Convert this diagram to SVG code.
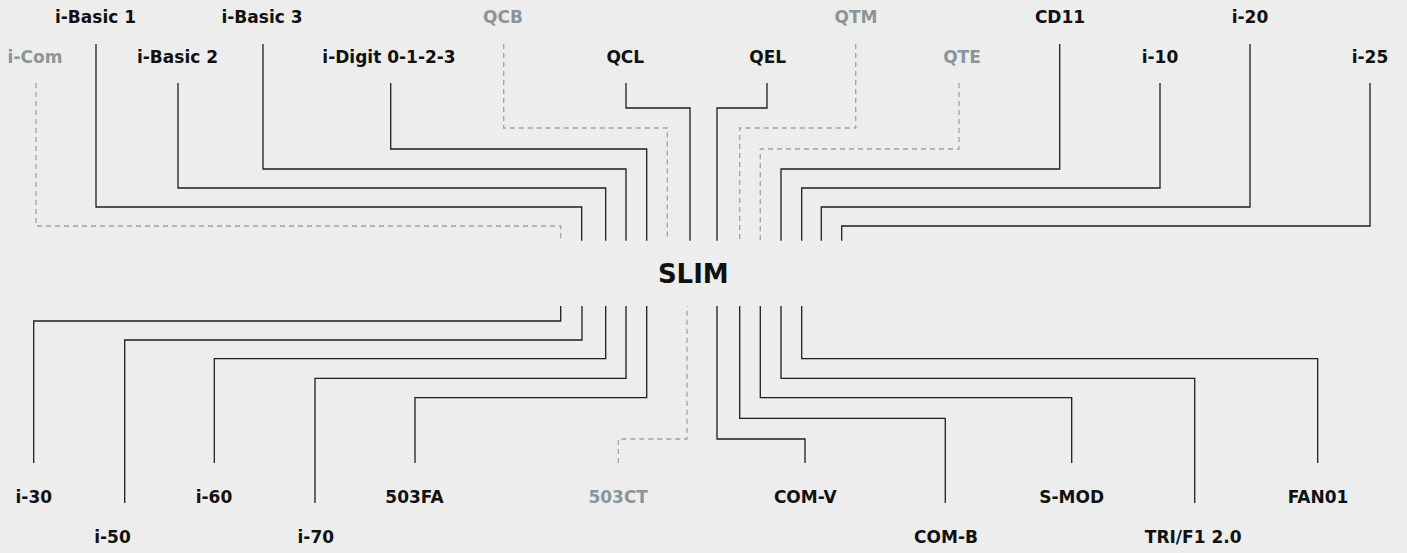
<svg xmlns="http://www.w3.org/2000/svg" width="1407" height="553" viewBox="0 0 1407 553">
<style>
text{font-family:"DejaVu Sans","Liberation Sans",sans-serif;font-weight:bold;font-size:17px;text-anchor:middle;fill:#111}
text.g{fill:#8b9599}
text.hub{font-size:26px}
.c path{fill:none;stroke:#1e1e1e;stroke-width:1.3}
.c path.d{stroke:#a3a3a3;stroke-dasharray:5 4}
</style>
<rect width="1407" height="553" fill="#ededed"/>
<g id="connectors" class="c">
<path class="d" d="M36,83 V226 H560.7 V240.7"/>
<path d="M96,44 V207 H581.7 V240.7"/>
<path d="M178,83 V188 H605.7 V240.7"/>
<path d="M263,44 V169 H626 V240.7"/>
<path d="M390.7,83 V149 H646.7 V240.7"/>
<path class="d" d="M503.7,44 V128 H667.3 V240.7"/>
<path d="M626,83 V108 H690 V240.7"/>
<path d="M767,83 V108 H717 V240.7"/>
<path class="d" d="M855.7,44 V128 H739.7 V240.7"/>
<path class="d" d="M959,83 V149 H760.3 V240.7"/>
<path d="M1059.7,44 V169 H781 V240.7"/>
<path d="M1160,83 V188 H801.7 V240.7"/>
<path d="M1250,44 V207 H821.3 V240.7"/>
<path d="M1370,83 V226 H841.7 V240.7"/>
<path d="M33.7,463 V321 H560.7 V306"/>
<path d="M124.7,503 V340 H582 V306"/>
<path d="M214.3,463 V358.7 H605.7 V306"/>
<path d="M315,503 V378.3 H626 V306"/>
<path d="M415,463 V397.7 H646.7 V306"/>
<path class="d" d="M618.3,463 V439 H687 V306"/>
<path d="M805,463 V439 H717 V306"/>
<path d="M945.3,503 V418.3 H739.7 V306"/>
<path d="M1071.7,463 V397.7 H760.3 V306"/>
<path d="M1194.7,503 V378.3 H781 V306"/>
<path d="M1317.7,463 V358.7 H801.7 V306"/>
</g>
<g id="slim"><text class="hub" x="693.3" y="283">SLIM</text></g>
<g id="i-basic-1"><text x="95.5" y="23">i-Basic 1</text></g>
<g id="i-basic-3"><text x="262" y="23">i-Basic 3</text></g>
<g id="qcb"><text class="g" x="503" y="23">QCB</text></g>
<g id="qtm"><text class="g" x="856" y="23">QTM</text></g>
<g id="cd11"><text x="1060" y="23">CD11</text></g>
<g id="i-20"><text x="1250" y="23">i-20</text></g>
<g id="i-com"><text class="g" x="35" y="63">i-Com</text></g>
<g id="i-basic-2"><text x="177.5" y="63">i-Basic 2</text></g>
<g id="i-digit"><text x="389" y="63">i-Digit 0-1-2-3</text></g>
<g id="qcl"><text x="625.3" y="63">QCL</text></g>
<g id="qel"><text x="767.7" y="63">QEL</text></g>
<g id="qte"><text class="g" x="962" y="63">QTE</text></g>
<g id="i-10"><text x="1160" y="63">i-10</text></g>
<g id="i-25"><text x="1370" y="63">i-25</text></g>
<g id="i-30"><text x="33.8" y="503">i-30</text></g>
<g id="i-60"><text x="214" y="503">i-60</text></g>
<g id="n503fa"><text x="414.5" y="503">503FA</text></g>
<g id="n503ct"><text class="g" x="618.2" y="503">503CT</text></g>
<g id="com-v"><text x="805.3" y="503">COM-V</text></g>
<g id="s-mod"><text x="1071.7" y="503">S-MOD</text></g>
<g id="fan01"><text x="1318" y="503">FAN01</text></g>
<g id="i-50"><text x="112.5" y="543">i-50</text></g>
<g id="i-70"><text x="315.8" y="543">i-70</text></g>
<g id="com-b"><text x="946" y="543">COM-B</text></g>
<g id="tri-f1"><text x="1193.2" y="543">TRI/F1 2.0</text></g>
</svg>
